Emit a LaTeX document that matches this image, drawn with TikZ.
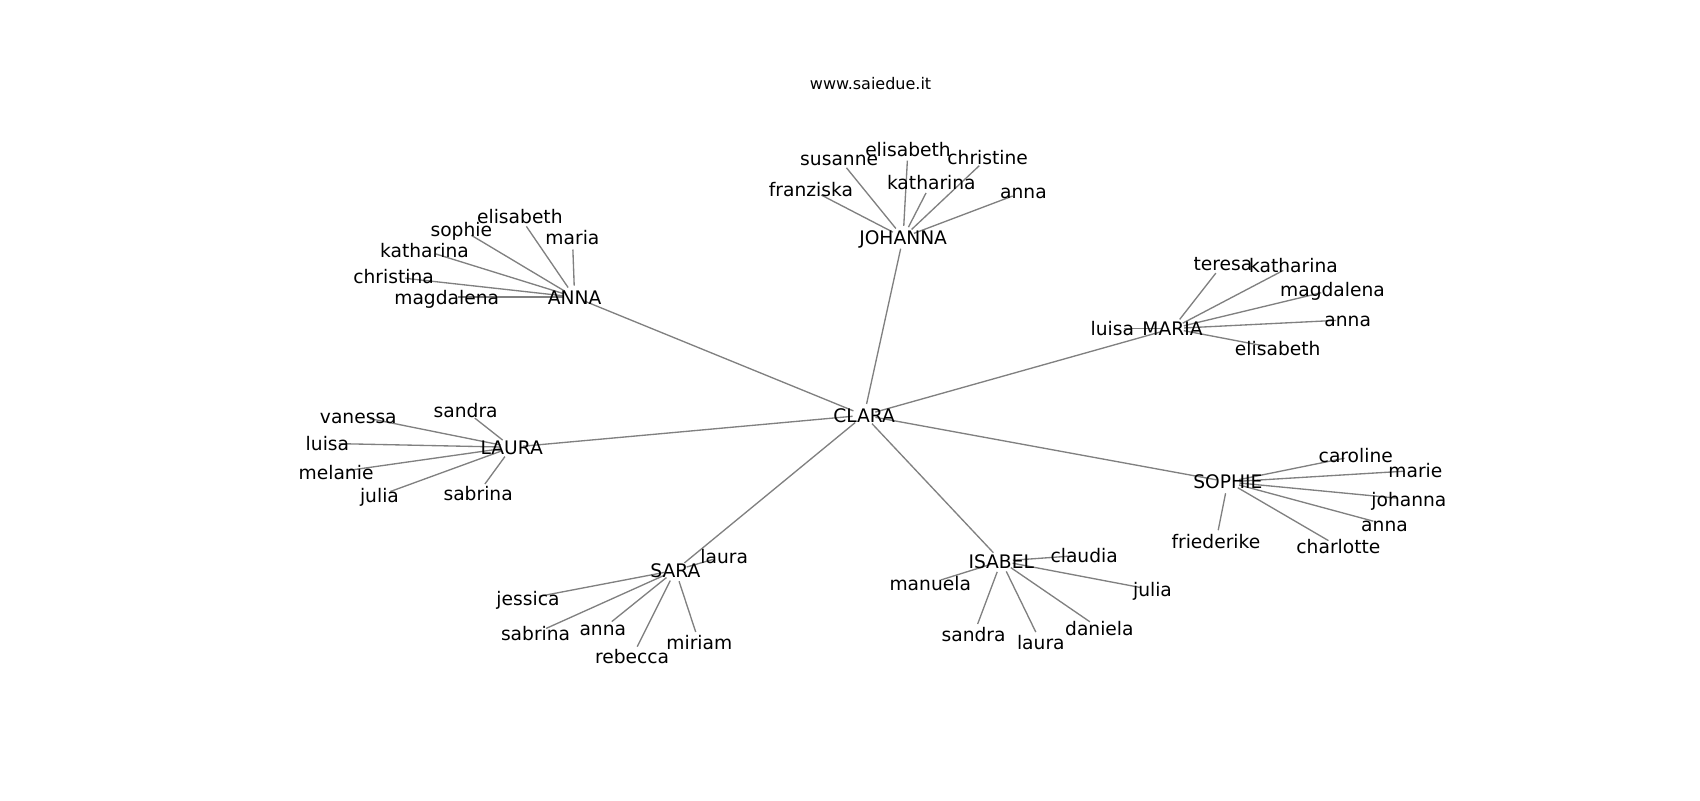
\documentclass[tikz,border=0pt]{standalone}
\usepackage{fontspec}
\setmainfont{DejaVu Sans}
\usetikzlibrary{backgrounds}

\begin{document}
\begin{tikzpicture}[x=0.8131pt, y=-0.8131pt,
    nametext/.style={font=\fontsize{14}{17}\selectfont, inner sep=0pt, text height=13.4pt, text depth=2.94pt},
    link/.style={draw=gray, line width=1pt, shorten <=8.66pt, shorten >=8.66pt}]
    \def\hub#1#2#3#4{%
        \node[nametext] (#1) at (#2,#3) {#4};
    }

    \def\leaf#1#2#3#4{%
        \node[nametext] (#1-#2) at (#3,#4) {#2};
        \begin{scope}[on background layer]
            \draw[link] (#1.center) -- (#1-#2.center);
        \end{scope}
    }

    \useasboundingbox (0,0) rectangle (1568,738);

    \node[font=\fontsize{12}{14}\selectfont, inner sep=0pt, text height=11.5pt, text depth=2.52pt] (title) at (803,77) {www.saiedue.it};

    \hub{clara}{797}{383}{CLARA}
    \hub{johanna}{833}{219}{JOHANNA}
    \hub{anna}{530}{274}{ANNA}
    \hub{maria}{1081.5}{303}{MARIA}
    \hub{laura}{472}{412.5}{LAURA}
    \hub{sophie}{1132.5}{444.5}{SOPHIE}
    \hub{sara}{623}{526}{SARA}
    \hub{isabel}{923.5}{517.5}{ISABEL}

    \begin{scope}[on background layer]
        \foreach \h in {johanna,anna,maria,laura,sophie,sara,isabel}
            \draw[link] (clara.center) -- (\h.center);
    \end{scope}

    \leaf{johanna}{susanne}{774}{146.5}
    \leaf{johanna}{elisabeth}{837.5}{137.5}
    \leaf{johanna}{christine}{911}{145.5}
    \leaf{johanna}{franziska}{748}{175}
    \leaf{johanna}{katharina}{859}{168.5}
    \leaf{johanna}{anna}{944}{177}

    \leaf{anna}{elisabeth}{479.5}{200}
    \leaf{anna}{sophie}{425.5}{211.5}
    \leaf{anna}{maria}{528}{219.5}
    \leaf{anna}{katharina}{391.5}{231}
    \leaf{anna}{christina}{363}{255.5}
    \leaf{anna}{magdalena}{412}{274}

    \leaf{maria}{teresa}{1128}{243.5}
    \leaf{maria}{katharina}{1193}{244.5}
    \leaf{maria}{magdalena}{1229}{267.5}
    \leaf{maria}{anna}{1243}{295}
    \leaf{maria}{elisabeth}{1178.5}{321.5}
    \leaf{maria}{luisa}{1026}{303}

    \leaf{laura}{vanessa}{330.5}{384}
    \leaf{laura}{sandra}{429.5}{379}
    \leaf{laura}{luisa}{302}{409}
    \leaf{laura}{melanie}{310}{435.5}
    \leaf{laura}{julia}{350}{457}
    \leaf{laura}{sabrina}{441}{455}

    \leaf{sophie}{caroline}{1250.5}{420.5}
    \leaf{sophie}{marie}{1305.5}{434}
    \leaf{sophie}{johanna}{1299.5}{460.5}
    \leaf{sophie}{anna}{1277}{483.5}
    \leaf{sophie}{charlotte}{1234.5}{504}
    \leaf{sophie}{friederike}{1121.5}{499.5}

    \leaf{sara}{laura}{668}{513}
    \leaf{sara}{jessica}{487}{552}
    \leaf{sara}{sabrina}{494}{584}
    \leaf{sara}{anna}{556}{580}
    \leaf{sara}{rebecca}{583}{606}
    \leaf{sara}{miriam}{645}{593}

    \leaf{isabel}{claudia}{1000}{512}
    \leaf{isabel}{manuela}{858}{538}
    \leaf{isabel}{julia}{1063}{544}
    \leaf{isabel}{sandra}{898}{585.5}
    \leaf{isabel}{laura}{960}{592.5}
    \leaf{isabel}{daniela}{1014}{579.5}
\end{tikzpicture}
\end{document}
